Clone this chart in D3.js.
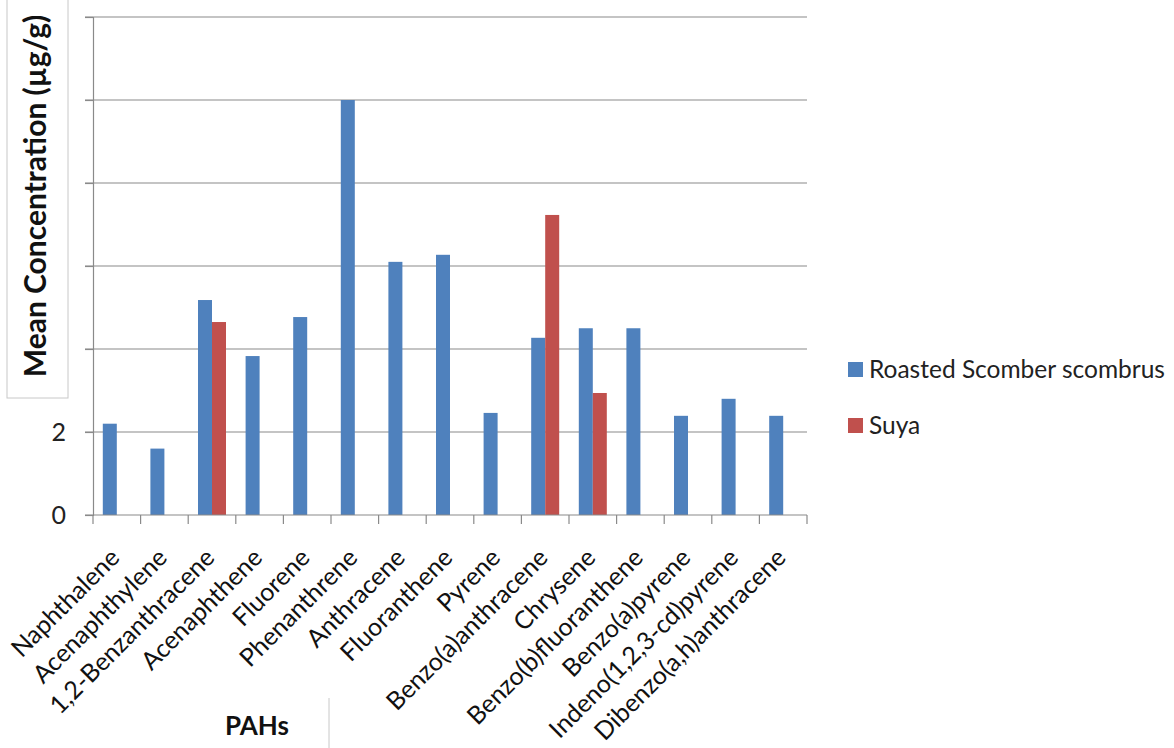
<!DOCTYPE html>
<html>
<head>
<meta charset="utf-8">
<script src="https://cdn.jsdelivr.net/npm/d3@7"></script>
<style>
  body { margin: 0; background: #fff; }
  svg { display: block; font-family: Lato, "Open Sans", sans-serif; }
</style>
</head>
<body>
<div id="chart"></div>
<script>
// Chart data
const categories = [
  'Naphthalene', 'Acenaphthylene', '1,2-Benzanthracene', 'Acenaphthene',
  'Fluorene', 'Phenanthrene', 'Anthracene', 'Fluoranthene', 'Pyrene',
  'Benzo(a)anthracene', 'Chrysene', 'Benzo(b)fluoranthene',
  'Benzo(a)pyrene', 'Indeno(1,2,3-cd)pyrene', 'Dibenzo(a,h)anthracene'
];
const seriesNames = ['Roasted Scomber scombrus', 'Suya'];
const roastedValues = [2.2, 1.6, 5.18, 3.83, 4.77, 10.0, 6.1, 6.27, 2.46, 4.27, 4.5, 4.5, 2.39, 2.8, 2.39];
const suyaValues = [0, 0, 4.65, 0, 0, 0, 0, 0, 0, 7.23, 2.94, 0, 0, 0, 0];
const yTicks = [0, 2, 4, 6, 8, 10, 12];

const width = 1174;
const height = 748;
const margin = { left: 93, right: 367, top: 17, bottom: 233 };
const colors = ['#4f81bd', '#c0504d'];

const svg = d3.select('#chart')
  .append('svg')
  .attr('width', width)
  .attr('height', height);

const x = d3.scaleBand()
  .domain(categories)
  .range([margin.left, width - margin.right])
  .paddingInner(0)
  .paddingOuter(0);

const y = d3.scaleLinear()
  .domain([0, 12])
  .range([height - margin.bottom, margin.top]);

// Inner scale for the two series within a category
const xSub = d3.scaleBand()
  .domain(seriesNames)
  .range([0, x.bandwidth()])
  .paddingInner(0)
  .paddingOuter(0.7);

// Horizontal grid lines
svg.append('g')
  .selectAll('line')
  .data(yTicks.filter(d => d > 0))
  .join('line')
  .attr('x1', margin.left - 8)
  .attr('x2', width - margin.right)
  .attr('y1', d => y(d))
  .attr('y2', d => y(d))
  .attr('stroke', '#8a8a8a')
  .attr('stroke-width', 1.2);

// Y axis
const yAxis = svg.append('g')
  .attr('transform', `translate(${margin.left},0)`)
  .call(d3.axisLeft(y).tickValues(yTicks).tickSize(8).tickPadding(19));
yAxis.select('.domain').attr('stroke', '#8a8a8a').attr('stroke-width', 1.2);
yAxis.selectAll('.tick line').attr('stroke', '#8a8a8a').attr('stroke-width', 1.2);
yAxis.selectAll('.tick text')
  .attr('fill', '#222')
  .style('font-size', '25px')
  .style('font-family', 'Lato, sans-serif');

// Bars
const groups = svg.append('g')
  .selectAll('g')
  .data(categories.map((c, i) => ({ category: c, values: [roastedValues[i], suyaValues[i]] })))
  .join('g')
  .attr('transform', d => `translate(${x(d.category)},0)`);

groups.selectAll('rect')
  .data(d => d.values.map((v, i) => ({ series: seriesNames[i], value: v, i })))
  .join('rect')
  .filter(d => d.value > 0)
  .attr('x', d => xSub(d.series))
  .attr('width', xSub.bandwidth())
  .attr('y', d => y(d.value))
  .attr('height', d => y(0) - y(d.value))
  .attr('fill', d => colors[d.i]);

// X axis with category boundary ticks
const xAxisY = y(0);
svg.append('line')
  .attr('x1', margin.left - 8)
  .attr('x2', width - margin.right)
  .attr('y1', xAxisY)
  .attr('y2', xAxisY)
  .attr('stroke', '#8a8a8a')
  .attr('stroke-width', 1.2);

svg.append('g')
  .selectAll('line')
  .data(d3.range(categories.length + 1))
  .join('line')
  .attr('x1', i => margin.left + i * x.step())
  .attr('x2', i => margin.left + i * x.step())
  .attr('y1', xAxisY)
  .attr('y2', xAxisY + 9)
  .attr('stroke', '#8a8a8a')
  .attr('stroke-width', 1.2);

// Rotated category labels
svg.append('g')
  .selectAll('text')
  .data(categories)
  .join('text')
  .attr('transform', d => `translate(${x(d) + x.bandwidth() / 2 - 2},${xAxisY + 38}) rotate(-45)`)
  .attr('text-anchor', 'end')
  .attr('dy', '0.35em')
  .attr('fill', '#111')
  .style('font-size', '25px')
  .text(d => d);

// White box for the y-axis title (covers the upper tick labels)
svg.append('rect')
  .attr('x', 7)
  .attr('y', -2)
  .attr('width', 61)
  .attr('height', 400)
  .attr('fill', '#fff')
  .attr('stroke', '#c8c8c8')
  .attr('stroke-width', 1);

svg.append('text')
  .attr('transform', `translate(46,${196}) rotate(-90)`)
  .attr('text-anchor', 'middle')
  .attr('fill', '#111')
  .style('font-size', '30px')
  .style('font-weight', 'bold')
  .text('Mean Concentration (µg/g)');

// X-axis title
svg.append('text')
  .attr('x', 257)
  .attr('y', 735)
  .attr('text-anchor', 'middle')
  .attr('fill', '#111')
  .style('font-size', '26px')
  .style('font-weight', 'bold')
  .text('PAHs');

svg.append('line')
  .attr('x1', 329)
  .attr('x2', 329)
  .attr('y1', 698)
  .attr('y2', height)
  .attr('stroke', '#c8c8c8');

// Legend
const legend = svg.append('g')
  .attr('transform', 'translate(848,362)');

legend.selectAll('g')
  .data(seriesNames)
  .join('g')
  .attr('transform', (d, i) => `translate(0,${i * 56})`)
  .each(function(d, i) {
    const g = d3.select(this);
    g.append('rect')
      .attr('width', 15)
      .attr('height', 15)
      .attr('fill', colors[i]);
    g.append('text')
      .attr('x', 21)
      .attr('y', 16)
      .attr('fill', '#222')
      .style('font-size', '24.5px')
      .text(d);
  });
</script>
</body>
</html>
